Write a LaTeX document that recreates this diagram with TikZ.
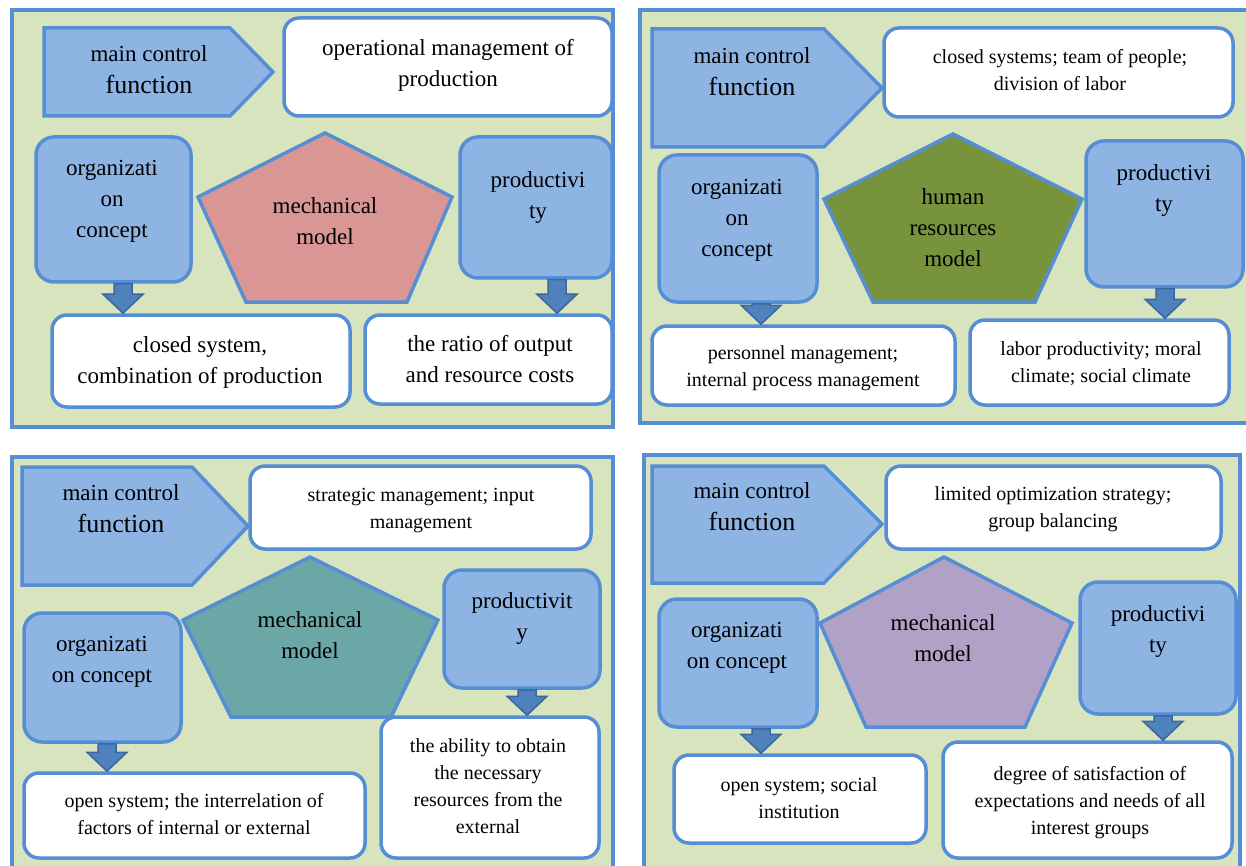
\documentclass[tikz,border=0pt]{standalone}
\usepackage{fontspec}
\setmainfont{Liberation Serif}
\usetikzlibrary{calc}
\definecolor{bggreen}{HTML}{D7E4BD}
\definecolor{bblue}{HTML}{558ED5}
\definecolor{boxblue}{HTML}{8EB4E3}
\definecolor{arrblue}{HTML}{4F81BD}
\definecolor{arrdark}{HTML}{3A679E}
\definecolor{pentA}{HTML}{D99694}
\definecolor{pentB}{HTML}{77933C}
\definecolor{pentC}{HTML}{6BA7A7}
\definecolor{pentD}{HTML}{B2A1C7}
\newcommand\mkbox[6]{%
 \pgfmathsetmacro\bxw{#5-#3}\pgfmathsetmacro\bxh{#6-#4}%
 \pgfmathsetmacro\bxx{(#3+#5)/2}\pgfmathsetmacro\bxy{(#4+#6)/2}%
 \node[#2, minimum width=\bxw pt, minimum height=\bxh pt] (#1) at (\bxx,\bxy) {};}
\newcommand\darr[3]{\draw[darrow] let \p1=(#2.south), \p2=(#3.north) in
 ({#1pt-9pt},\y1) -- ({#1pt+9pt},\y1) -- ({#1pt+9pt},\y2+19pt) -- ({#1pt+20pt},\y2+19pt)
 -- (#1pt,\y2) -- ({#1pt-20pt},\y2+19pt) -- ({#1pt-9pt},\y2+19pt) -- cycle;}
\begin{document}
\begin{tikzpicture}[x=1pt,y=-1pt,
 panel/.style={fill=bggreen, draw=bblue, line width=4pt},
 bluebox/.style={rectangle, rounded corners=18pt, fill=boxblue, draw=bblue, line width=3.5pt, inner sep=0pt},
 whitebox/.style={rectangle, rounded corners=15pt, fill=white, draw=bblue, line width=3.5pt, inner sep=0pt},
 homeplate/.style={fill=boxblue, draw=bblue, line width=3.5pt},
 pent/.style={draw=bblue, line width=3.5pt, line join=miter},
 darrow/.style={fill=arrblue, draw=arrdark, line width=1.5pt},
 tA/.style={align=center, inner sep=0pt, yshift=-5pt, font=\fontsize{23}{31}\selectfont, execute at begin node=\strut, execute at end node=\strut},
 tM/.style={align=center, inner sep=0pt, yshift=-5pt, font=\fontsize{23}{32}\selectfont, execute at begin node=\strut, execute at end node=\strut},
 tB/.style={align=center, inner sep=0pt, yshift=-4pt, font=\fontsize{20}{27}\selectfont, execute at begin node=\strut, execute at end node=\strut}]
\useasboundingbox (0,0) rectangle (1246,866);
\clip (0,0) rectangle (1246,866);
% ---------------- Panel 1
\draw[panel] (12,10) rectangle (613,427);
\draw[homeplate] (44,28) -- (230,28) -- (273,72) -- (230,116) -- (44,116) -- cycle;
\node[tM] (p1mct) at (149,69) {main control\\{\fontsize{26}{32}\selectfont function}};
\mkbox{p1top}{whitebox}{284}{18}{612}{116}
\node[tA] (p1topt) at (448,62.5) {operational management of\\production};
\mkbox{p1org}{bluebox}{36}{137}{191}{282}
\node[tA] (p1orgt) at (112,199) {organizati\\on\\concept};
\draw[pent, fill=pentA] (325,133) -- (452,197) -- (407,302) -- (246,302) -- (198,197) -- cycle;
\node[tA] (p1pt) at (325,221) {mechanical\\model};
\mkbox{p1pr}{bluebox}{460}{137}{612}{278}
\node[tA] (p1prt) at (538,194.5) {productivi\\ty};
\mkbox{p1bl}{whitebox}{52}{315}{350}{407}
\node[tA] (p1blt) at (200,360) {closed system,\\combination of production};
\mkbox{p1br}{whitebox}{365}{315}{612}{404}
\node[tA] (p1brt) at (490,358.5) {the ratio of output\\and resource costs};
\darr{123}{p1org}{p1bl}
\darr{557}{p1pr}{p1br}
% ---------------- Panel 2
\draw[panel] (640,10) rectangle (1258,423);
\draw[homeplate] (652,29) -- (824,29) -- (882,88) -- (824,147) -- (652,147) -- cycle;
\node[tM] (p2mct) at (752,71) {main control\\{\fontsize{26}{32}\selectfont function}};
\mkbox{p2top}{whitebox}{884}{28}{1233}{117}
\node[tB] (p2topt) at (1060,70) {closed systems; team of people;\\division of labor};
\mkbox{p2org}{bluebox}{659}{155}{817}{302}
\node[tA] (p2orgt) at (737,218) {organizati\\on\\concept};
\draw[pent, fill=pentB] (953,134) -- (1082,199) -- (1035,302) -- (873,302) -- (824,199) -- cycle;
\node[tA] (p2pt) at (953,227) {human\\resources\\model};
\mkbox{p2pr}{bluebox}{1086}{141}{1243}{287}
\node[tA] (p2prt) at (1164,187.5) {productivi\\ty};
\mkbox{p2bl}{whitebox}{652}{326}{955}{405}
\node[tB] (p2blt) at (803,366.5) {personnel management;\\internal process management};
\mkbox{p2br}{whitebox}{970}{320}{1229}{405}
\node[tB] (p2brt) at (1101,362) {labor productivity; moral\\climate; social climate};
\darr{761}{p2org}{p2bl}
\darr{1165}{p2pr}{p2br}
% ---------------- Panel 3
\draw[panel] (12,457) rectangle (613,880);
\draw[homeplate] (22,467) -- (192,467) -- (248,526) -- (192,585) -- (22,585) -- cycle;
\node[tM] (p3mct) at (121,508) {main control\\{\fontsize{26}{32}\selectfont function}};
\mkbox{p3top}{whitebox}{250}{466}{591}{549}
\node[tB] (p3topt) at (421,508) {strategic management; input\\management};
\draw[pent, fill=pentC] (310,557) -- (438,620) -- (391,717) -- (231,717) -- (183,620) -- cycle;
\node[tA] (p3pt) at (310,635) {mechanical\\model};
\mkbox{p3org}{bluebox}{24}{613}{181}{742}
\node[tA] (p3orgt) at (102,659) {organizati\\on concept};
\mkbox{p3pr}{bluebox}{444}{570}{600}{688}
\node[tA] (p3prt) at (522,616) {productivit\\y};
\mkbox{p3bl}{whitebox}{24}{773}{365}{858}
\node[tB] (p3blt) at (194,814) {open system; the interrelation of\\factors of internal or external};
\mkbox{p3br}{whitebox}{381}{717}{599}{858}
\node[tB] (p3brt) at (488,786) {the ability to obtain\\the necessary\\resources from the\\external};
\darr{107}{p3org}{p3bl}
\darr{527}{p3pr}{p3br}
% ---------------- Panel 4
\draw[panel] (644,455) rectangle (1240,880);
\draw[homeplate] (652,466) -- (824,466) -- (882,524) -- (824,583) -- (652,583) -- cycle;
\node[tM] (p4mct) at (752,506.5) {main control\\{\fontsize{26}{32}\selectfont function}};
\mkbox{p4top}{whitebox}{886}{466}{1221}{549}
\node[tB] (p4topt) at (1053,507.5) {limited optimization strategy;\\group balancing};
\mkbox{p4org}{bluebox}{659}{599}{817}{727}
\node[tA] (p4orgt) at (737,645.5) {organizati\\on concept};
\draw[pent, fill=pentD] (944,557) -- (1072,623) -- (1025,727) -- (866,727) -- (820,623) -- cycle;
\node[tA] (p4pt) at (943,638) {mechanical\\model};
\mkbox{p4pr}{bluebox}{1080}{582}{1236}{714}
\node[tA] (p4prt) at (1158,629) {productivi\\ty};
\mkbox{p4bl}{whitebox}{674}{755}{926}{843}
\node[tB] (p4blt) at (799,798.5) {open system; social\\institution};
\mkbox{p4br}{whitebox}{943}{742}{1232}{858}
\node[tB] (p4brt) at (1090,800) {degree of satisfaction of\\expectations and needs of all\\interest groups};
\darr{761}{p4org}{p4bl}
\darr{1163}{p4pr}{p4br}
\end{tikzpicture}
\end{document}
